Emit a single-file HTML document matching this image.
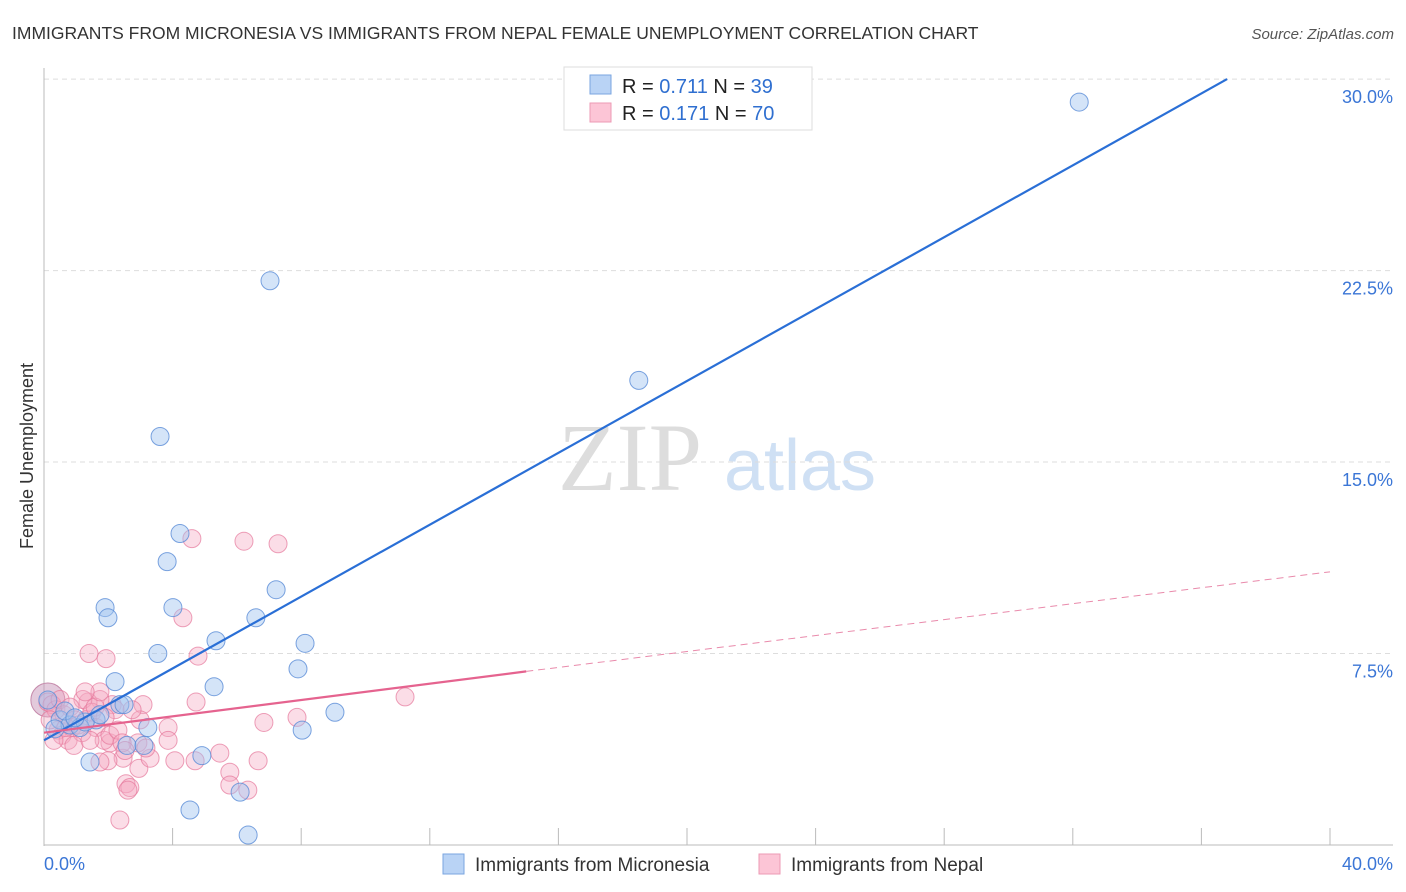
<!DOCTYPE html>
<html><head><meta charset="utf-8"><style>
body{margin:0;background:#fff;font-family:"Liberation Sans",sans-serif;}
svg{display:block}
</style></head><body>
<svg id="c" width="1406" height="892" xmlns="http://www.w3.org/2000/svg">
<text x="12" y="39" font-size="17.5" fill="#333">IMMIGRANTS FROM MICRONESIA VS IMMIGRANTS FROM NEPAL FEMALE UNEMPLOYMENT CORRELATION CHART</text>
<text x="1394" y="39" font-size="15" fill="#555" font-style="italic" text-anchor="end">Source: ZipAtlas.com</text>
<text transform="translate(33,456) rotate(-90)" font-size="18" fill="#333" text-anchor="middle">Female Unemployment</text>
<text x="630" y="490" font-size="96" fill="#ddd" font-family="Liberation Serif,serif" text-anchor="middle">ZIP</text>
<text x="800" y="490" font-size="72" fill="#cfe0f4" text-anchor="middle">atlas</text>
<g id="grid"></g><g id="marks"></g>
<g>
<rect x="564" y="67" width="248" height="63" fill="#fff" stroke="#ddd"/>
<rect x="590" y="75" width="21" height="19" fill="#b9d3f5" stroke="#7aa6e0"/>
<rect x="590" y="103" width="21" height="19" fill="#fcc5d6" stroke="#ec9ab4"/>
<text x="622" y="93" font-size="20" fill="#222">R = <tspan fill="#2f6fd0">0.711</tspan>   N = <tspan fill="#2f6fd0">39</tspan></text>
<text x="622" y="120" font-size="20" fill="#222">R = <tspan fill="#2f6fd0">0.171</tspan>   N = <tspan fill="#2f6fd0">70</tspan></text>
</g>
<g>
<rect x="443" y="854" width="21" height="20" fill="#b9d3f5" stroke="#7aa6e0"/>
<text x="475" y="871" font-size="19" fill="#333">Immigrants from Micronesia</text>
<rect x="759" y="854" width="21" height="20" fill="#fcc5d6" stroke="#ec9ab4"/>
<text x="791" y="871" font-size="19" fill="#333">Immigrants from Nepal</text>
</g>
</svg>
<script>
const xTicks=[0,40];
const yTicks=[7.5,15,22.5,30];
const blueX=[32.2,7.03,18.5,3.61,4.23,3.83,1.9,1.99,4.01,7.22,6.59,5.35,3.54,8.12,7.9,5.29,2.21,2.36,2.49,9.05,3.23,8.03,1.62,1.43,2.58,3.11,4.91,4.54,6.1,6.35,0.12,0.5,0.81,1.12,0.34,0.65,1.28,1.74,0.96];
const blueY=[29.1,22.1,18.2,16.0,12.2,11.1,9.3,8.9,9.3,10.0,8.9,8.0,7.5,7.9,6.9,6.2,6.4,5.5,5.5,5.2,4.6,4.5,4.9,3.25,3.9,3.9,3.5,1.37,2.07,0.39,5.68,4.9,4.7,4.6,4.55,5.25,4.82,5.1,4.98];
const pinkX=[4.6,6.22,7.28,4.32,1.4,1.93,4.79,4.73,3.86,3.08,2.12,1.74,1.37,1.21,2.21,6.84,7.87,11.23,3.86,2.92,2.05,2.46,1.99,1.74,4.07,4.7,5.47,2.95,3.3,2.55,2.67,2.61,5.78,6.34,6.66,5.78,2.36,0.12,0.25,0.37,0.5,0.62,0.81,0.96,0.44,0.56,0.75,0.87,1.06,1.18,1.31,1.49,1.62,1.87,2.05,2.3,2.43,2.99,0.19,0.31,0.68,0.93,1.43,1.59,1.9,2.52,3.17,2.74,1.74,1.28];
const pinkY=[12.0,11.9,11.8,8.9,7.5,7.3,7.4,5.6,4.6,5.5,5.5,5.7,5.6,5.7,5.3,4.8,5.0,5.8,4.1,4.0,4.0,3.4,3.3,3.25,3.3,3.3,3.6,3.0,3.4,2.4,2.25,2.15,2.85,2.15,3.3,2.35,0.98,5.6,5.5,5.3,5.7,5.1,5.4,4.9,4.5,4.3,4.1,4.6,4.7,4.4,4.9,5.2,4.6,4.1,4.3,4.5,4.0,4.9,4.9,4.1,4.6,3.9,4.1,5.4,5.0,3.7,3.8,5.3,6.0,6.0];
const blueLine=[[0,4.1],[36.8,30.0]];
const pinkSolid=[[0,4.4],[15.0,6.8]];
const pinkDash=[[15.0,6.8],[40,10.7]];
const X=v=>44+v*32.15, Y=v=>845-v*25.53;
const NS="http://www.w3.org/2000/svg";
const grid=document.getElementById('grid'), marks=document.getElementById('marks');
function mk(tag,attrs,parent){const e=document.createElementNS(NS,tag);for(const k in attrs)e.setAttribute(k,attrs[k]);parent.appendChild(e);return e;}
yTicks.forEach(t=>{
 const l=mk('line',{x1:44,x2:1393,y1:Y(t),y2:Y(t),stroke:'#ddd','stroke-dasharray':'5,4'},grid);
 
 
 const tx=mk('text',{x:1393,y:Y(t)+24,'font-size':18,fill:'#3b76d6','text-anchor':'end'},grid);
 tx.textContent=t.toFixed(1)+'%';
 
 
});
mk('line',{x1:44,x2:44,y1:68,y2:846,stroke:'#bbb'},grid);
mk('line',{x1:44,x2:1393,y1:845,y2:845,stroke:'#bbb'},grid);
for(let i=1;i<=10;i++){const v=i*4;const t=mk('line',{x1:X(v),x2:X(v),y1:828,y2:845,stroke:'#bbb'},grid);
 
 }
xTicks.forEach((t,i)=>{const tx=mk('text',{x:i?1393:44,y:870,'font-size':18,fill:'#3b76d6','text-anchor':i?'end':'start'},grid);
 tx.textContent=t.toFixed(1)+'%';
 
 });
const big=mk('circle',{cx:X(0.12),cy:Y(5.68),r:17,fill:'rgba(200,150,185,0.5)',stroke:'#c58aab'},marks);


pinkX.forEach((x,i)=>{const c=mk('circle',{cx:X(x),cy:Y(pinkY[i]),r:9,fill:'rgba(245,170,196,0.4)',stroke:'rgba(230,120,155,0.7)'},marks);
 
 });
blueX.forEach((x,i)=>{const c=mk('circle',{cx:X(x),cy:Y(blueY[i]),r:9,fill:'rgba(160,196,240,0.45)',stroke:'rgba(90,140,215,0.8)'},marks);
 
 });
let l=mk('line',{x1:X(blueLine[0][0]),y1:Y(blueLine[0][1]),x2:X(blueLine[1][0]),y2:Y(blueLine[1][1]),stroke:'#2a6fd6','stroke-width':2.2},marks);


l=mk('line',{x1:X(pinkSolid[0][0]),y1:Y(pinkSolid[0][1]),x2:X(pinkSolid[1][0]),y2:Y(pinkSolid[1][1]),stroke:'#e5638f','stroke-width':2.2},marks);


l=mk('line',{x1:X(pinkDash[0][0]),y1:Y(pinkDash[0][1]),x2:X(pinkDash[1][0]),y2:Y(pinkDash[1][1]),stroke:'#e98aab','stroke-width':1,'stroke-dasharray':'7,5'},marks);


</script>
</body></html>
